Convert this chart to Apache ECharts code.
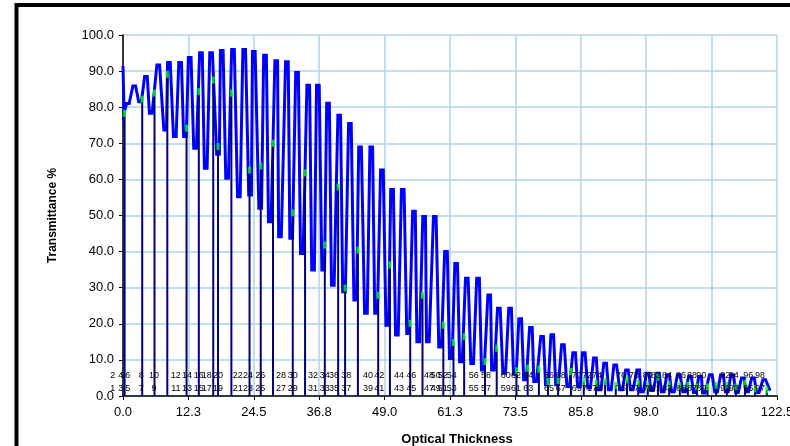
<!DOCTYPE html>
<html>
<head>
<meta charset="utf-8">
<script src="https://cdn.jsdelivr.net/npm/echarts@6/dist/echarts.min.js"></script>
<style>
  html, body { margin: 0; padding: 0; background: #fff; }
  #chart { width: 790px; height: 446px; }
</style>
</head>
<body>
<div id="chart"></div>
<script>
// Monitoring trace: turning points of the transmittance signal vs optical thickness
const traceThickness = [
  0.0, 0.2, 0.9, 2.1, 3.2, 4.3, 5.2, 6.6, 7.9, 8.6, 9.7, 10.7, 11.6, 12.5, 13.5,
  14.6, 15.5, 16.5, 17.8, 18.5, 19.5, 20.6, 21.7, 22.7, 23.8, 24.5, 25.7, 26.6, 27.5,
  28.7, 29.4, 30.7, 31.5, 32.6, 33.5, 34.7, 35.6, 36.5, 37.5, 38.4, 39.3, 40.5, 41.4,
  42.5, 43.5, 44.4, 45.5, 46.5, 47.4, 48.5, 49.5, 50.4, 51.3, 52.4, 53.4, 54.5, 55.3,
  56.4, 57.1, 58.4, 59.4, 60.5, 61.4, 62.4, 63.3, 64.4, 65.4, 66.5, 67.4, 68.6, 69.3,
  70.4, 71.4, 72.5, 73.4, 74.4, 75.3, 76.4, 77.2, 78.5, 79.4, 80.4, 81.3, 82.4, 83.4,
  84.5, 85.4, 86.3, 87.3, 88.4, 89.3, 90.3, 91.2, 92.2, 93.3, 94.4, 95.3, 96.5, 97.2,
  98.3, 99.1, 100.2, 101.1, 102.1, 103.0, 104.1, 105.1, 106.2, 107.1, 108.1, 108.8,
  110.1, 111.1, 112.2, 113.1, 114.1, 115.0, 116.1, 116.9, 118.0, 118.9, 120.1, 121.2
];
const traceTransmittance = [
  91.4, 78.3, 81.0, 85.9, 81.5, 88.5, 78.3, 91.7, 73.7, 92.4, 71.9, 92.4, 71.9, 93.8, 68.6,
  95.1, 63.1, 95.1, 67.0, 95.7, 60.3, 96.0, 55.2, 96.0, 55.7, 95.4, 52.0, 94.4, 48.3,
  92.9, 44.1, 92.6, 43.7, 89.6, 39.5, 86.1, 34.9, 86.1, 34.9, 81.1, 30.7, 77.8, 28.9,
  75.5, 26.6, 69.0, 22.9, 69.0, 22.9, 62.6, 19.6, 57.2, 16.9, 57.2, 17.3, 51.2, 15.0,
  49.7, 15.0, 49.7, 13.6, 40.0, 10.4, 36.7, 9.5, 32.6, 9.0, 32.6, 7.2, 28.0, 7.2,
  24.3, 6.3, 24.3, 6.0, 21.4, 4.5, 19.0, 4.0, 16.5, 3.1, 17.0, 3.1, 14.2, 2.6,
  12.0, 2.6, 12.0, 2.2, 10.5, 1.7, 9.1, 1.7, 8.6, 1.7, 7.2, 1.7, 7.2, 1.2,
  6.3, 1.5, 6.3, 1.2, 5.9, 1.2, 5.9, 1.2, 5.4, 1.0, 5.4, 0.8,
  5.9, 1.2, 5.9, 1.2, 5.9, 1.0, 5.0, 1.2, 5.0, 1.0, 4.5, 1.5
];

// Layer termination points (where each layer was cut)
const stopThickness = [
  0.3, 3.6, 5.9, 8.3, 11.9, 14.2, 16.9, 17.8, 20.3, 23.7, 25.8, 28.1, 31.8, 34.1,
  37.8, 40.3, 41.6, 44.0, 47.8, 50.0, 53.8, 56.1, 60.0, 61.9, 63.9, 67.8, 70.0,
  73.7, 75.8, 77.9, 79.6, 81.5, 83.9, 86.3, 88.6, 90.3, 92.3, 94.4, 96.5, 98.3,
  100.2, 102.3, 104.3, 105.8, 107.5, 109.5, 111.1, 113.1, 114.8, 116.5, 118.4, 120.6
];
const stopTransmittance = [
  78.3, 82.2, 83.9, 89.1, 74.2, 84.3, 87.5, 69.1, 83.9, 62.6, 63.7, 70.0, 50.7, 61.8,
  41.8, 57.9, 29.9, 40.4, 27.9, 36.3, 20.1, 27.9, 19.6, 14.8, 16.4, 9.5, 13.2,
  7.0, 7.7, 7.4, 4.0, 4.3, 6.8, 4.0, 3.5, 4.0, 3.0, 4.5, 3.5, 3.0,
  5.2, 3.1, 2.8, 3.0, 2.5, 2.5, 3.0, 3.0, 2.5, 3.5, 2.0, 1.7
];

// Layer numbers, written in pairs (odd below, even above) at these thicknesses
const pairThickness = [
  -1.9, -0.4, 0.9, 3.4, 5.8, 9.9, 12.0, 14.2, 15.7, 17.8, 21.5, 23.4, 25.7, 29.6,
  31.8, 35.6, 37.8, 39.5, 41.8, 45.9, 48.0, 51.7, 54.0, 57.3, 58.6, 59.9, 61.6,
  65.7, 68.0, 71.7, 73.6, 75.9, 79.8, 82.0, 85.0, 86.9, 88.8, 93.3, 95.7, 98.3,
  99.8, 101.9, 104.5, 106.6, 108.3, 112.8, 114.4, 117.1, 119.3
];

const xTickLabels = ['0.0', '12.3', '24.5', '36.8', '49.0', '61.3', '73.5', '85.8', '98.0', '110.3', '122.5'];
const yTickLabels = ['0.0', '10.0', '20.0', '30.0', '40.0', '50.0', '60.0', '70.0', '80.0', '90.0', '100.0'];

const X_STEP = 12.25;
const Y_STEP = 10;
const ROW_ODD = 2.2;   // transmittance level of the odd-layer number row
const ROW_EVEN = 5.6;  // transmittance level of the even-layer number row
const HOLD = 0.5;      // the signal dwells this long (in thickness units) at each turning point

const font = '"Liberation Sans", Arial, sans-serif';
const chart = echarts.init(document.getElementById('chart'), null, { renderer: 'canvas' });

// each turning point is drawn as a short flat dwell, like the sampled monitor signal
const traceData = [];
traceThickness.forEach((x, i) => {
  const t = traceTransmittance[i];
  if (i < 2 || i === traceThickness.length - 1) {
    traceData.push([x, t]);
  } else {
    traceData.push([x - HOLD / 2, t], [x + HOLD / 2, t]);
  }
});
const stopData = stopThickness.map((x, i) => [x, stopTransmittance[i]]);
const pairData = pairThickness.map((x, i) => [x, i]);

chart.setOption({
  animation: false,
  backgroundColor: '#ffffff',
  graphic: [{
    type: 'rect',
    shape: { x: 16.5, y: 5, width: 820, height: 500 },
    style: { fill: 'none', stroke: '#000', lineWidth: 4 },
    silent: true
  }],
  grid: { left: 123, right: 13, top: 35, bottom: 50, outerBoundsMode: 'none', containLabel: false },
  xAxis: {
    type: 'value',
    min: 0, max: 122.5, interval: X_STEP,
    name: 'Optical Thickness',
    nameLocation: 'middle',
    nameGap: 37,
    nameTextStyle: { fontFamily: font, fontSize: 13, fontWeight: 'bold', color: '#000', padding: [0, 0, 0, 14] },
    axisLine: { show: true, onZero: false, lineStyle: { color: '#000', width: 1.5 } },
    axisTick: { show: true, length: 4, lineStyle: { color: '#000' } },
    axisLabel: {
      fontFamily: font, fontSize: 13, color: '#000', margin: 10,
      formatter: v => xTickLabels[Math.round(v / X_STEP)]
    },
    splitLine: { show: true, lineStyle: { color: '#b0d2ea', width: 1.5 } }
  },
  yAxis: {
    type: 'value',
    min: 0, max: 100, interval: Y_STEP,
    name: 'Transmittance %',
    nameLocation: 'middle',
    nameRotate: 90,
    nameGap: 64,
    nameTextStyle: { fontFamily: font, fontSize: 12, fontWeight: 'bold', color: '#000' },
    axisLine: { show: true, lineStyle: { color: '#000', width: 1.5 } },
    axisTick: { show: true, length: 4, lineStyle: { color: '#000' } },
    axisLabel: {
      fontFamily: font, fontSize: 13, color: '#000', margin: 9,
      formatter: v => yTickLabels[Math.round(v / Y_STEP)]
    },
    splitLine: { show: true, lineStyle: { color: '#b0d2ea', width: 1.5 } }
  },
  series: [
    {
      name: 'trace',
      type: 'line',
      data: traceData,
      showSymbol: false,
      lineStyle: { color: '#0000ff', width: 3, join: 'miter' },
      z: 2
    },
    {
      name: 'cuts',
      type: 'custom',
      data: stopData,
      z: 3,
      renderItem: (params, api) => {
        const top = api.coord([api.value(0), api.value(1)]);
        const base = api.coord([api.value(0), 0]);
        return {
          type: 'line',
          shape: { x1: base[0], y1: base[1], x2: top[0], y2: top[1] },
          style: { stroke: '#00007f', lineWidth: 2 }
        };
      }
    },
    {
      name: 'cut marks',
      type: 'scatter',
      data: stopData,
      symbol: 'rect',
      symbolSize: [3, 7],
      itemStyle: { color: '#00ff00' },
      z: 4
    },
    {
      name: 'layer numbers',
      type: 'custom',
      data: pairData,
      clip: false,
      z: 5,
      renderItem: (params, api) => {
        const x = api.value(0);
        const k = api.value(1);
        const lo = api.coord([x, ROW_ODD]);
        const hi = api.coord([x, ROW_EVEN]);
        const st = t => ({ text: t, fill: '#000', font: '9px ' + font, align: 'center', verticalAlign: 'middle' });
        return {
          type: 'group',
          children: [
            { type: 'text', x: lo[0], y: lo[1], style: st(String(2 * k + 1)) },
            { type: 'text', x: hi[0], y: hi[1], style: st(String(2 * k + 2)) }
          ]
        };
      }
    }
  ]
});
</script>
</body>
</html>
